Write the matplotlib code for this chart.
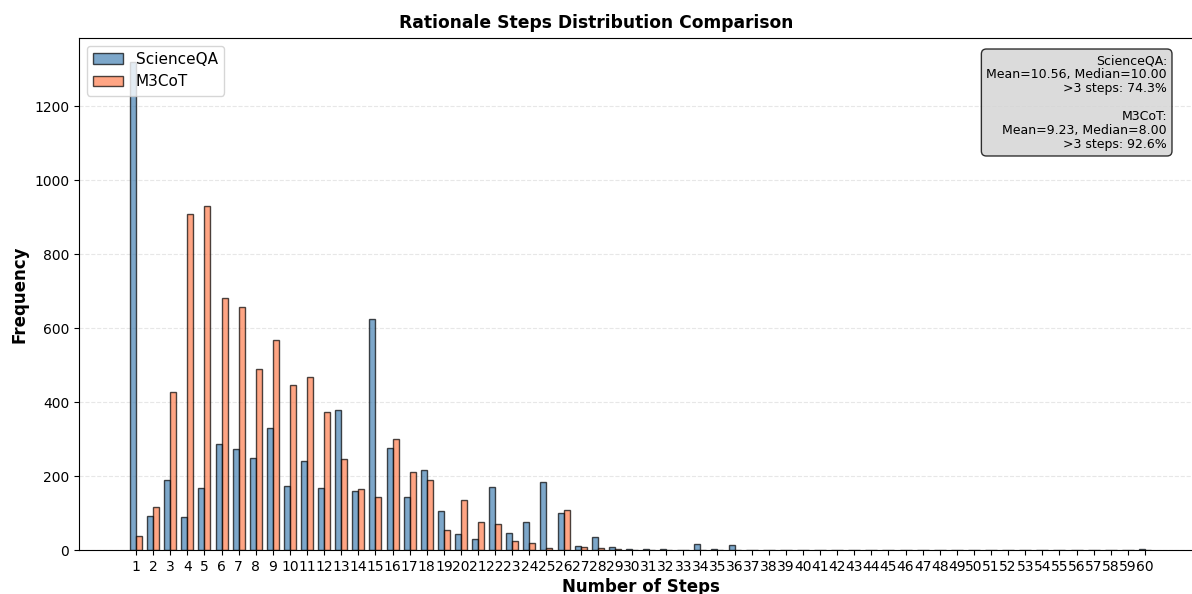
import numpy as np
import matplotlib
matplotlib.use("Agg")
import matplotlib.pyplot as plt

# step counts 1..60
steps = list(range(1, 61))

# frequencies
scienceqa = [1318, 93, 190, 89, 168, 287, 272, 250, 330, 172,
             241, 167, 379, 160, 624, 275, 142, 216, 105, 44,
             31, 170, 45, 76, 184, 100, 12, 35, 8, 4,
             2, 2, 1, 15, 2, 13, 1, 1, 0, 0,
             0, 0, 0, 0, 0, 0, 0, 0, 0, 0,
             0, 0, 0, 0, 0, 0, 0, 0, 0, 2]
m3cot = [39, 115, 427, 909, 930, 681, 656, 490, 568, 446,
         467, 373, 246, 166, 142, 301, 212, 190, 54, 135,
         77, 71, 23, 19, 5, 109, 7, 5, 3, 1,
         1, 0, 0, 0, 0, 0, 0, 0, 0, 0,
         0, 0, 0, 0, 0, 0, 0, 0, 0, 0,
         0, 0, 0, 0, 0, 0, 0, 0, 0, 0]

stats_text = ("ScienceQA:\nMean=10.56, Median=10.00\n>3 steps: 74.3%\n\n"
              "M3CoT:\nMean=9.23, Median=8.00\n>3 steps: 92.6%")

W, H = 1192, 594
fig = plt.figure(figsize=(W / 100, H / 100), dpi=100)
# axes runs a little past the right edge, like the reference crop
ax = fig.add_axes([79 / W, (H - 550) / H, 1123 / W, 512 / H])

x = np.arange(len(steps))
width = 0.35
ax.bar(x - width / 2, scienceqa, width, label='ScienceQA', color='steelblue',
       alpha=0.7, edgecolor='black', linewidth=1)
ax.bar(x + width / 2, m3cot, width, label='M3CoT', color='coral',
       alpha=0.7, edgecolor='black', linewidth=1)

ax.set_xticks(x)
ax.set_xticklabels([str(s) for s in steps], fontsize=10)
ax.tick_params(axis='y', labelsize=10)
ax.set_xlabel('Number of Steps', fontsize=12, fontweight='bold', labelpad=3)
ax.set_ylabel('Frequency', fontsize=12, fontweight='bold')
ax.set_title('Rationale Steps Distribution Comparison', fontsize=12.3,
             fontweight='bold', x=(596 - 79) / 1123, pad=7)
ax.legend(loc='upper left', fontsize=11)
ax.grid(axis='y', linestyle='--', alpha=0.3)
ax.set_axisbelow(True)

ax.text((1167 - 79) / 1123, (550 - 54) / 512, stats_text, transform=ax.transAxes,
        fontsize=9, ha='right', va='top', multialignment='right', linespacing=1.1,
        bbox=dict(boxstyle='round,pad=0.4', facecolor='lightgray', alpha=0.8))

fig.savefig('out.png', dpi=100)
